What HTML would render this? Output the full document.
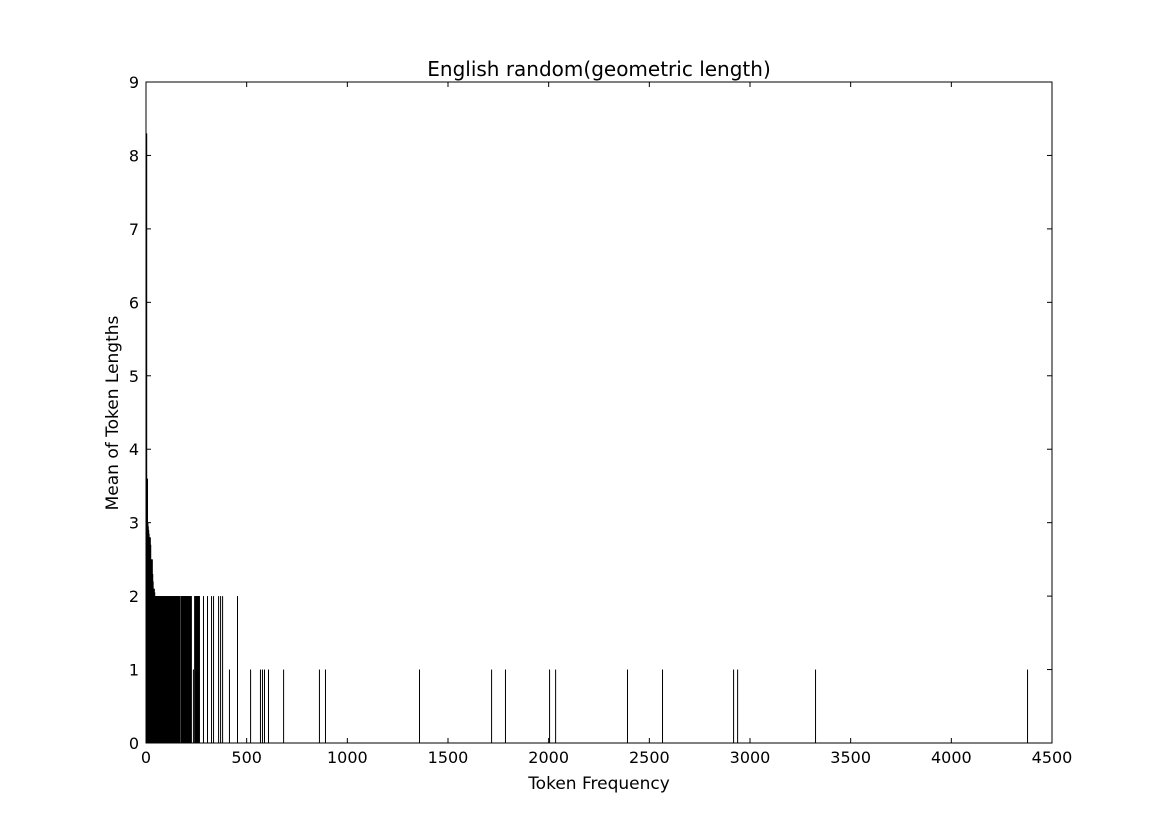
<!DOCTYPE html>
<html><head><meta charset="utf-8"><style>
body{margin:0;background:#fff}
svg{display:block;font-family:"DejaVu Sans","Liberation Sans",sans-serif}
</style></head><body>
<svg id="chart" width="1169" height="827" xmlns="http://www.w3.org/2000/svg">
<rect width="1169" height="827" fill="#fff"/>
<text x="599" y="76" font-size="20" text-anchor="middle">English random(geometric length)</text>
<text x="599" y="789" font-size="17" text-anchor="middle">Token Frequency</text>
<text x="118" y="413" font-size="17" text-anchor="middle" transform="rotate(-90 118 413)">Mean of Token Lengths</text>
<g id="marks"></g>
<g id="axes"></g>
</svg>
<script>
const freqs = [1,3,5,7,9,11,13,15,17,19,21,23,25,27,29,31,33,35,37,39,41,43,45,47,49,51,53,55,57,59,61,63,65,67,69,71,73,75,77,79,81,83,85,87,89,91,93,95,97,99,101,103,105,107,109,111,113,115,117,119,121,123,125,127,129,131,133,135,137,139,141,143,145,147,149,151,153,155,157,159,161,163,165,167,
173,175,177,179,181,183,185,187,189,191,193,195,197,199,201,203,205,207,209,211,213,215,217,219,221,223,233,239,241,243,245,247,249,251,253,255,257,259,261,263,
283,303,323,333,358,368,378,412,452,517,566,576,586,606,681,859,889,1356,1714,1783,2002,2032,2389,2563,2916,2936,3323,4376];
const means = [8.3,3.6,3.6,3.0,2.95,2.9,2.85,2.8,2.8,2.8,2.7,2.5,2.5,2.5,2.5,2.3,2.2,2.1,2.1,2.1,2.05,2,2,2,2,2,2,2,2,2,2,2,2,2,2,2,2,2,2,2,2,2,2,2,2,2,2,2,2,2,2,2,2,2,2,2,2,2,2,2,2,2,2,2,2,2,2,2,2,2,2,2,2,2,2,2,2,2,2,2,2,2,2,2,
2,2,2,2,2,2,2,2,2,2,2,2,2,2,2,2,2,2,2,2,2,2,2,2,2,2,1,2,2,2,2,2,2,2,2,2,2,2,2,2,
2,2,2,2,2,2,2,1,2,1,1,1,1,1,1,1,1,1,1,1,1,1,1,1,1,1,1,1];
const xTicks = [0,500,1000,1500,2000,2500,3000,3500,4000,4500];
const yTicks = [0,1,2,3,4,5,6,7,8,9];
const X0=146,X1=1052,Y0=743,Y1=82;
const xs=v=>X0+(v/4500)*(X1-X0);
const ys=v=>Y0-(v/9)*(Y0-Y1);
const NS="http://www.w3.org/2000/svg";
const marks=document.getElementById('marks'), axes=document.getElementById('axes');
function mk(tag,attrs,parent){const e=document.createElementNS(NS,tag);for(const k in attrs)e.setAttribute(k,attrs[k]);parent.appendChild(e);return e;}
freqs.forEach((f,i)=>{
  const w=Math.max(1,xs(f+0.8)-xs(f));
  const r=mk('rect',{x:xs(f),y:ys(means[i]),width:w,height:ys(0)-ys(means[i]),fill:'#000'},marks);
  
  
});
const frame=mk('rect',{x:X0,y:Y1,width:X1-X0,height:Y0-Y1,fill:'none',stroke:'#000','stroke-width':1},axes);


xTicks.forEach(t=>{
  const x=xs(t);
  mk('line',{x1:x,x2:x,y1:Y0,y2:Y0-5,stroke:'#000'},axes);
  mk('line',{x1:x,x2:x,y1:Y1,y2:Y1+5,stroke:'#000'},axes);
  const tx=mk('text',{x:x,y:Y0+20,'font-size':16,'text-anchor':'middle'},axes);
  tx.textContent=t;
  
  
});
yTicks.forEach(t=>{
  const y=ys(t);
  mk('line',{x1:X0,x2:X0+5,y1:y,y2:y,stroke:'#000'},axes);
  mk('line',{x1:X1,x2:X1-5,y1:y,y2:y,stroke:'#000'},axes);
  const tx=mk('text',{x:X0-7,y:y+6,'font-size':16,'text-anchor':'end'},axes);
  tx.textContent=t;
  
  
});
</script>
</body></html>
